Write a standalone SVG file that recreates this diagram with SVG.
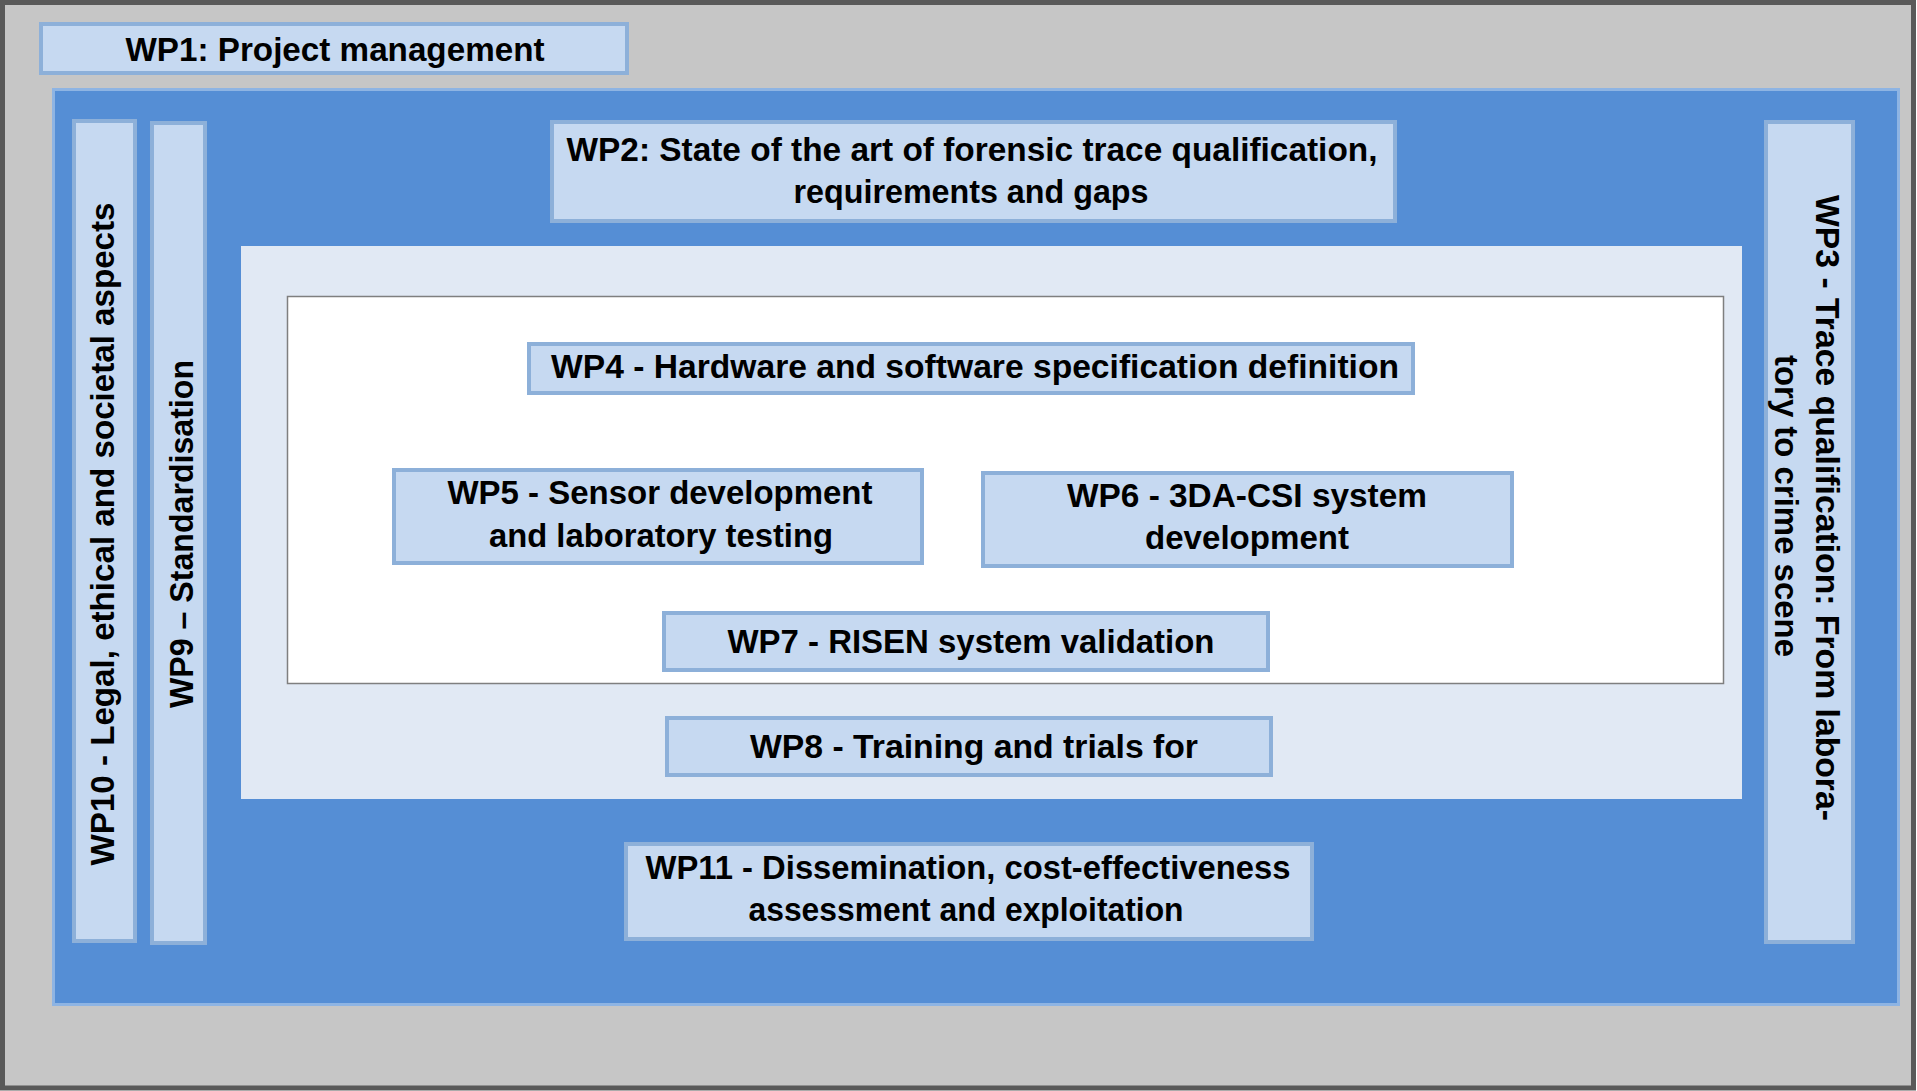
<svg xmlns="http://www.w3.org/2000/svg" width="1917" height="1091" viewBox="0 0 1917 1091">
<style>
.node rect{fill:#c6d9f1;stroke:#8db0d9;stroke-width:4}
text{font-family:"Liberation Sans",Arial,sans-serif;font-weight:bold;font-size:34px;fill:#000;text-anchor:middle}
</style>
<g id="background">
<rect x="2.5" y="2.5" width="1911" height="1085.5" fill="#c6c6c6" stroke="#595959" stroke-width="5"/>
<rect x="53.5" y="89.5" width="1845" height="915" fill="#558ed5" stroke="#8eb4e3" stroke-width="3"/>
<rect x="241" y="246" width="1501" height="553" fill="#e1e9f4"/>
<rect x="287.5" y="296.5" width="1436" height="387" fill="#ffffff" stroke="#7f7f7f" stroke-width="1.5"/>
</g>
<g id="wp1" class="node"><rect x="41" y="24" width="586" height="49"/><text x="335" y="61" textLength="419" lengthAdjust="spacingAndGlyphs">WP1: Project management</text></g>
<g id="wp2" class="node"><rect x="552" y="122" width="843" height="99"/><text x="972" y="161" textLength="811" lengthAdjust="spacingAndGlyphs">WP2: State of the art of forensic trace qualification,</text><text x="971" y="203" textLength="355" lengthAdjust="spacingAndGlyphs">requirements and gaps</text></g>
<g id="wp4" class="node"><rect x="529" y="344" width="884" height="49"/><text x="975" y="378" textLength="848" lengthAdjust="spacingAndGlyphs">WP4 - Hardware and software specification definition</text></g>
<g id="wp5" class="node"><rect x="394" y="470" width="528" height="93"/><text x="660" y="504" textLength="425" lengthAdjust="spacingAndGlyphs">WP5 - Sensor development</text><text x="661" y="547" textLength="344" lengthAdjust="spacingAndGlyphs">and laboratory testing</text></g>
<g id="wp6" class="node"><rect x="983" y="473" width="529" height="93"/><text x="1247" y="507" textLength="360" lengthAdjust="spacingAndGlyphs">WP6 - 3DA-CSI system</text><text x="1247" y="549" textLength="204" lengthAdjust="spacingAndGlyphs">development</text></g>
<g id="wp7" class="node"><rect x="664" y="613" width="604" height="57"/><text x="971" y="653" textLength="487" lengthAdjust="spacingAndGlyphs">WP7 - RISEN system validation</text></g>
<g id="wp8" class="node"><rect x="667" y="718" width="604" height="57"/><text x="974" y="758" textLength="448" lengthAdjust="spacingAndGlyphs">WP8 - Training and trials for</text></g>
<g id="wp11" class="node"><rect x="626" y="844" width="686" height="95"/><text x="968" y="879" textLength="645" lengthAdjust="spacingAndGlyphs">WP11 - Dissemination, cost-effectiveness</text><text x="966" y="921" textLength="435" lengthAdjust="spacingAndGlyphs">assessment and exploitation</text></g>
<g id="wp10" class="node"><rect x="74" y="121" width="61" height="820"/><text transform="translate(114,534) rotate(-90)" x="0" y="0" textLength="663" lengthAdjust="spacingAndGlyphs">WP10 - Legal, ethical and societal aspects</text></g>
<g id="wp9" class="node"><rect x="152" y="123" width="53" height="820"/><text transform="translate(193,534) rotate(-90)" x="0" y="0" textLength="348" lengthAdjust="spacingAndGlyphs">WP9 – Standardisation</text></g>
<g id="wp3" class="node"><rect x="1766" y="122" width="87" height="820"/><text transform="translate(1816,508) rotate(90)" x="0" y="0" textLength="626" lengthAdjust="spacingAndGlyphs">WP3 - Trace qualification: From labora-</text><text transform="translate(1775,506) rotate(90)" x="0" y="0" textLength="302" lengthAdjust="spacingAndGlyphs">tory to crime scene</text></g>
<g id="connectors"/>
</svg>
